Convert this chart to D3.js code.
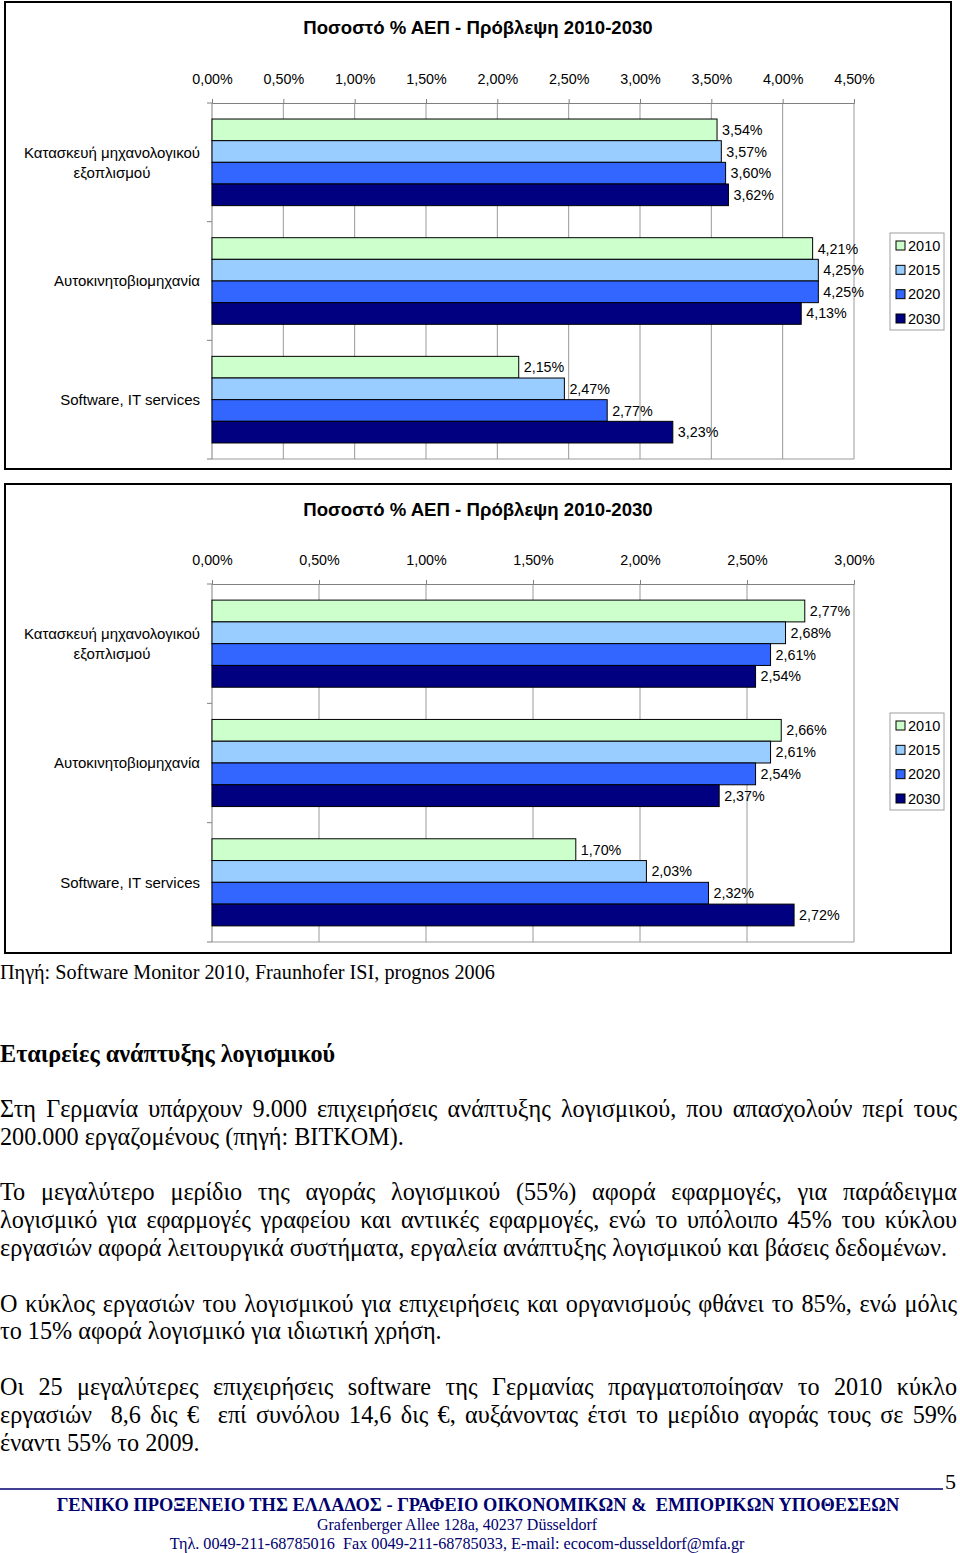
<!DOCTYPE html>
<html>
<head>
<meta charset="utf-8">
<script src="https://cdn.jsdelivr.net/npm/d3@7"></script>
<style>
  html, body { margin: 0; padding: 0; background: #fff; }
  svg { display: block; }
  text { white-space: pre; }
</style>
</head>
<body>
<svg id="page" width="960" height="1553"></svg>
<script>
// ---------------- DATA ----------------
const categories = [["Κατασκευή μηχανολογικού", "εξοπλισμού"], ["Αυτοκινητοβιομηχανία"], ["Software, IT services"]];
const seriesNames = ["2010", "2015", "2020", "2030"];

// Chart 1 values (% of GDP)
const chart1_2010 = [3.54, 4.21, 2.15];
const chart1_2015 = [3.57, 4.25, 2.47];
const chart1_2020 = [3.60, 4.25, 2.77];
const chart1_2030 = [3.62, 4.13, 3.23];
const chart1Ticks = [0, 0.5, 1, 1.5, 2, 2.5, 3, 3.5, 4, 4.5];

// Chart 2 values (% of GDP)
const chart2_2010 = [2.77, 2.66, 1.70];
const chart2_2015 = [2.68, 2.61, 2.03];
const chart2_2020 = [2.61, 2.54, 2.32];
const chart2_2030 = [2.54, 2.37, 2.72];
const chart2Ticks = [0, 0.5, 1, 1.5, 2, 2.5, 3];

const chartTitle = "Ποσοστό % ΑΕΠ - Πρόβλεψη 2010-2030";
const sourceText = "Πηγή: Software Monitor 2010, Fraunhofer ISI, prognos 2006";
const headingText = "Εταιρείες ανάπτυξης λογισμικού";
const paragraphs = [
  ["Στη Γερμανία υπάρχουν 9.000 επιχειρήσεις ανάπτυξης λογισμικού, που απασχολούν περί τους",
   "200.000 εργαζομένους (πηγή: BITKOM)."],
  ["Το μεγαλύτερο μερίδιο της αγοράς λογισμικού (55%) αφορά εφαρμογές, για παράδειγμα",
   "λογισμικό για εφαρμογές γραφείου και αντιικές εφαρμογές, ενώ το υπόλοιπο 45% του κύκλου",
   "εργασιών αφορά λειτουργικά συστήματα, εργαλεία ανάπτυξης λογισμικού και βάσεις δεδομένων."],
  ["Ο κύκλος εργασιών του λογισμικού για επιχειρήσεις και οργανισμούς φθάνει το 85%, ενώ μόλις",
   "το 15% αφορά λογισμικό για ιδιωτική χρήση."],
  ["Οι 25 μεγαλύτερες επιχειρήσεις software της Γερμανίας πραγματοποίησαν το 2010 κύκλο",
   "εργασιών  8,6 δις €  επί συνόλου 14,6 δις €, αυξάνοντας έτσι το μερίδιο αγοράς τους σε 59%",
   "έναντι 55% το 2009."]
];
const pageNumber = "5";
const footerTitle = "ΓΕΝΙΚΟ ΠΡΟΞΕΝΕΙΟ ΤΗΣ ΕΛΛΑΔΟΣ - ΓΡΑΦΕΙΟ ΟΙΚΟΝΟΜΙΚΩΝ &  ΕΜΠΟΡΙΚΩΝ ΥΠΟΘΕΣΕΩΝ";
const footerAddress = "Grafenberger Allee 128a, 40237 Düsseldorf";
const footerContact = "Τηλ. 0049-211-68785016  Fax 0049-211-68785033, E-mail: ecocom-dusseldorf@mfa.gr";

// ---------------- STYLE ----------------
const colors = ["#CCFFCC", "#99CCFF", "#3366FF", "#000080"];
const sans = "'Liberation Sans', Arial, sans-serif";
const serif = "'Liberation Serif', 'Times New Roman', serif";
const navy = "#00006e";

const locale = d3.formatLocale({decimal: ",", thousands: ".", grouping: [3], currency: ["", "€"]});
const pct = v => locale.format(".2f")(v) + "%";

const svg = d3.select("#page");
svg.append("rect").attr("width", 960).attr("height", 1553).attr("fill", "#fff");

function drawChart(cfg) {
  const values = cfg.series;
  const g = svg.append("g");

  g.append("rect")
    .attr("x", cfg.frame[0]).attr("y", cfg.frame[1])
    .attr("width", cfg.frame[2] - cfg.frame[0]).attr("height", cfg.frame[3] - cfg.frame[1])
    .attr("fill", "#fff").attr("stroke", "#000").attr("stroke-width", 2);

  g.append("text")
    .attr("x", 478).attr("y", cfg.titleY)
    .attr("text-anchor", "middle")
    .attr("font-family", sans).attr("font-weight", "bold").attr("font-size", 18.6)
    .text(chartTitle);

  const x = d3.scaleLinear().domain([0, cfg.max]).range([212, 854]);
  const y0 = d3.scaleBand().domain(d3.range(categories.length)).range([cfg.plotTop, cfg.plotBottom])
    .paddingInner(0.27).paddingOuter(0.135);
  const y1 = d3.scaleBand().domain(d3.range(seriesNames.length)).range([0, y0.bandwidth()]);

  g.append("g").selectAll("line").data(cfg.ticks.slice(1)).join("line")
    .attr("x1", d => x(d)).attr("x2", d => x(d))
    .attr("y1", cfg.plotTop).attr("y2", cfg.plotBottom)
    .attr("stroke", "#9a9a9a").attr("stroke-width", 1);
  g.append("line").attr("x1", 212).attr("x2", 854).attr("y1", cfg.plotBottom).attr("y2", cfg.plotBottom)
    .attr("stroke", "#9a9a9a");

  const xAxis = d3.axisTop(x).tickValues(cfg.ticks).tickSize(4).tickFormat(pct);
  const ax = g.append("g").attr("transform", `translate(0,${cfg.plotTop})`).call(xAxis);
  ax.select(".domain").attr("stroke", "#808080");
  ax.selectAll(".tick line").attr("stroke", "#808080");
  ax.selectAll(".tick text").attr("font-family", sans).attr("font-size", 14.3).attr("fill", "#000")
    .attr("y", cfg.tickLabelY - cfg.plotTop).attr("dy", "0.35em");

  const yAxisScale = d3.scalePoint().domain(d3.range(categories.length + 1)).range([cfg.plotTop, cfg.plotBottom]);
  g.append("line").attr("x1", 212).attr("x2", 212).attr("y1", cfg.plotTop).attr("y2", cfg.plotBottom)
    .attr("stroke", "#808080");
  g.append("g").selectAll("line").data(yAxisScale.domain()).join("line")
    .attr("x1", 207).attr("x2", 212)
    .attr("y1", d => yAxisScale(d)).attr("y2", d => yAxisScale(d))
    .attr("stroke", "#808080");

  categories.forEach((lines, i) => {
    const cy = y0(i) + y0.bandwidth() / 2;
    const t = g.append("text").attr("font-family", sans).attr("font-size", 15).attr("fill", "#000");
    const lh = 20;
    lines.forEach((ln, k) => {
      t.append("tspan").attr("y", cy + (k - (lines.length - 1) / 2) * lh).attr("dy", "0.35em").text(ln);
    });
    let maxW = 0;
    t.selectAll("tspan").each(function () { maxW = Math.max(maxW, this.getComputedTextLength()); });
    t.selectAll("tspan").attr("x", 200 - maxW / 2).attr("text-anchor", "middle");
  });

  const rows = [];
  values.forEach((arr, s) => arr.forEach((v, c) => rows.push({s, c, v})));
  g.append("g").selectAll("rect").data(rows).join("rect")
    .attr("x", x(0))
    .attr("y", d => y0(d.c) + y1(d.s))
    .attr("width", d => x(d.v) - x(0))
    .attr("height", y1.bandwidth())
    .attr("fill", d => colors[d.s])
    .attr("stroke", "#000").attr("stroke-width", 1);

  g.append("g").selectAll("text").data(rows).join("text")
    .attr("x", d => x(d.v) + 5)
    .attr("y", d => y0(d.c) + y1(d.s) + y1.bandwidth() / 2)
    .attr("dy", "0.35em")
    .attr("font-family", sans).attr("font-size", 14.3).attr("fill", "#000")
    .text(d => pct(d.v));

  const lg = g.append("g");
  lg.append("rect").attr("x", 890).attr("y", cfg.legendTop).attr("width", 54).attr("height", 97)
    .attr("fill", "#fff").attr("stroke", "#a0a0a0");
  const ls = d3.scalePoint().domain(d3.range(seriesNames.length)).range([cfg.legendTop + 12.5, cfg.legendTop + 85.5]);
  seriesNames.forEach((nm, i) => {
    lg.append("rect").attr("x", 896).attr("y", ls(i) - 4.5).attr("width", 9).attr("height", 9)
      .attr("fill", colors[i]).attr("stroke", "#000").attr("stroke-width", 1);
    lg.append("text").attr("x", 908).attr("y", ls(i)).attr("dy", "0.35em")
      .attr("font-family", sans).attr("font-size", 14.5).attr("fill", "#000").text(nm);
  });
}

drawChart({
  series: [chart1_2010, chart1_2015, chart1_2020, chart1_2030],
  ticks: chart1Ticks, max: 4.5,
  frame: [5, 2, 951, 469],
  titleY: 34, tickLabelY: 79, plotTop: 103, plotBottom: 459, legendTop: 233
});
drawChart({
  series: [chart2_2010, chart2_2015, chart2_2020, chart2_2030],
  ticks: chart2Ticks, max: 3,
  frame: [5, 484, 951, 953],
  titleY: 516, tickLabelY: 560, plotTop: 584, plotBottom: 942, legendTop: 713
});

// ---------------- TEXT BELOW ----------------
svg.append("text").attr("x", 0).attr("y", 979)
  .attr("font-family", serif).attr("font-size", 20.2).text(sourceText);

svg.append("text").attr("x", 0).attr("y", 1062)
  .attr("font-family", serif).attr("font-size", 24.2).attr("font-weight", "bold").text(headingText);

const textWidth = 957;
const lineH = 27.8;
let lineIdx = 0;
paragraphs.forEach((lines) => {
  lines.forEach((ln, k) => {
    const yy = 1117 + lineIdx * lineH;
    const t = svg.append("text").attr("x", 0).attr("y", yy)
      .attr("font-family", serif).attr("font-size", 24.2).text(ln);
    if (k !== lines.length - 1) {
      const w = t.node().getComputedTextLength();
      const spaces = (ln.match(/ /g) || []).length;
      if (spaces > 0) t.attr("word-spacing", (textWidth - w) / spaces);
    }
    lineIdx++;
  });
  lineIdx++;
});

// footer
svg.append("line").attr("x1", 0).attr("x2", 943).attr("y1", 1489).attr("y2", 1489)
  .attr("stroke", navy).attr("stroke-width", 1.5);
svg.append("text").attr("x", 945).attr("y", 1489)
  .attr("font-family", serif).attr("font-size", 22).text(pageNumber);
svg.append("text").attr("x", 478).attr("y", 1511).attr("text-anchor", "middle")
  .attr("font-family", serif).attr("font-size", 18.4).attr("font-weight", "bold").attr("fill", navy)
  .text(footerTitle);
svg.append("text").attr("x", 457).attr("y", 1530).attr("text-anchor", "middle")
  .attr("font-family", serif).attr("font-size", 16).attr("fill", navy)
  .text(footerAddress);
svg.append("text").attr("x", 457).attr("y", 1549).attr("text-anchor", "middle")
  .attr("font-family", serif).attr("font-size", 16.2).attr("fill", navy)
  .text(footerContact);
</script>
</body>
</html>
